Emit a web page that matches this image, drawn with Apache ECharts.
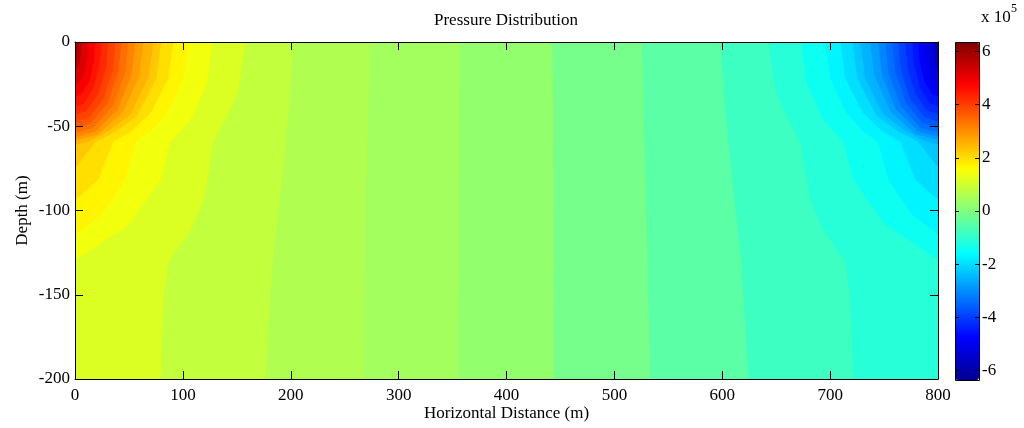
<!DOCTYPE html>
<html>
<head>
<meta charset="utf-8">
<script src="https://cdn.jsdelivr.net/npm/echarts@6/dist/echarts.min.js"></script>
<style>
  html, body { margin: 0; padding: 0; background: #ffffff; }
  #chart { width: 1024px; height: 428px; }
</style>
</head>
<body>
<div id="chart"></div>
<script>
// Contour lines of the pressure field, as [horizontal distance (m), depth (m)] points,
// each listed from the ground surface downward.

// Arcs around the injection corner (x = 0), innermost first.
const westArcs = [
  [[2.8, 0], [2.6, -3.1], [2.0, -6.4], [1.0, -8.5], [0, -9]],
  [[5.6, 0], [5.3, -5.7], [4.0, -11.7], [1.9, -15.6], [0, -16.6]],
  [[12.1, 0], [11.4, -8.7], [8.6, -18], [4.1, -24], [0, -25.5]],
  [[18.5, 0], [17.4, -11.2], [13.1, -23], [6.3, -30.6], [0, -32.6]],
  [[24.1, 0], [22.7, -13.2], [17, -27.3], [8.2, -36.3], [0, -38.6]],
  [[30.6, 0], [28.8, -14.8], [21.6, -30.6], [10.5, -40.7], [0, -43.3]],
  [[37.1, 0], [34.9, -16.2], [26.2, -33.6], [12.7, -44.6], [0, -47.5]],
  [[42.6, 0], [40, -17.4], [30.1, -36.1], [14.6, -48], [0, -51]],
  [[49.1, 0], [46.2, -18.5], [34.7, -38.2], [16.8, -50.8], [0, -54]],
  [[55.6, 0], [52.3, -19.3], [39.3, -39.9], [19, -53], [0, -56.4]],
  [[63, 0], [59.2, -19.9], [44.5, -41.1], [21.5, -54.7], [0, -58.2]],
  [[72.3, 0], [68, -21], [51, -43], [30, -53], [12, -59], [0, -61]],
  [[79.7, 0], [75, -22], [57, -44], [35, -54], [18.5, -59.3], [0, -74.8]],
  [[90.8, 0], [86, -22], [70, -42], [52, -53], [35, -59.3], [21.3, -81.9], [0, -93.8]],
  [[104.7, 0], [100, -22], [85, -42], [70, -53], [55.6, -59.3], [46.3, -81.9], [25, -102], [0, -114.5]],
  [[127, 0], [122, -25], [106.6, -46.3], [88, -59.3], [78.8, -81.9], [50, -108], [0, -129.4]]
];

// Lines crossing the section from surface to bottom, west to east.
const midLines = [
  [[157.6, 0], [151.1, -28.5], [139, -46.3], [127.9, -59.3], [122.3, -81.9], [118.7, -93.8], [106.6, -112], [86.2, -130.6], [81.6, -153.1], [78.8, -200]],
  [[202.1, 0], [198.4, -34.4], [194.7, -59.3], [189.2, -93.8], [182.7, -130.6], [176.1, -200]],
  [[273.4, 0], [270.6, -59.3], [268.7, -130.6], [266.9, -200]],
  [[356.9, 0], [356, -59.3], [355.5, -130.6], [355, -200]],
  [[442.2, 0], [443, -59.3], [443.4, -130.6], [443.6, -200]],
  [[525.3, 0], [527.4, -59.3], [530.4, -130.6], [533, -200]],
  [[597.9, 0], [601.6, -34.4], [605.3, -59.3], [610.8, -93.8], [617.3, -130.6], [623.9, -200]],
  [[642.4, 0], [648.9, -28.5], [661, -46.3], [672.1, -59.3], [677.7, -81.9], [681.3, -93.8], [693.4, -112], [713.8, -130.6], [718.4, -153.1], [721.2, -200]]
];

// Arcs around the production corner (x = 800), innermost first.
const eastArcs = [
  [[797.2, 0], [797.4, -3.1], [798, -6.4], [799, -8.5], [800, -9]],
  [[794.4, 0], [794.7, -5.7], [796, -11.7], [798.1, -15.6], [800, -16.6]],
  [[787.9, 0], [788.6, -8.7], [791.4, -18], [795.9, -24], [800, -25.5]],
  [[781.5, 0], [782.6, -11.2], [786.9, -23], [793.7, -30.6], [800, -32.6]],
  [[775.9, 0], [777.3, -13.2], [783, -27.3], [791.8, -36.3], [800, -38.6]],
  [[769.4, 0], [771.2, -14.8], [778.4, -30.6], [789.5, -40.7], [800, -43.3]],
  [[762.9, 0], [765.1, -16.2], [773.8, -33.6], [787.3, -44.6], [800, -47.5]],
  [[757.4, 0], [760, -17.4], [769.9, -36.1], [785.4, -48], [800, -51]],
  [[750.9, 0], [753.8, -18.5], [765.3, -38.2], [783.2, -50.8], [800, -54]],
  [[744.4, 0], [747.7, -19.3], [760.7, -39.9], [781, -53], [800, -56.4]],
  [[737, 0], [740.8, -19.9], [755.5, -41.1], [778.5, -54.7], [800, -58.2]],
  [[727.7, 0], [732, -21], [749, -43], [770, -53], [788, -59], [800, -61]],
  [[720.3, 0], [725, -22], [743, -44], [765, -54], [781.5, -59.3], [800, -74.8]],
  [[709.2, 0], [714, -22], [730, -42], [748, -53], [765, -59.3], [778.7, -81.9], [800, -93.8]],
  [[695.3, 0], [700, -22], [715, -42], [730, -53], [744.4, -59.3], [753.7, -81.9], [775, -102], [800, -114.5]],
  [[673, 0], [678, -25], [693.4, -46.3], [712, -59.3], [721.2, -81.9], [750, -108], [800, -129.4]]
];

// Pressure (x 10^5) of each filled band.
// East corner: inside the innermost arc, then between successive arcs.
const eastBandValues = [-6.0, -5.6, -5.2, -4.85, -4.51, -4.23, -3.95, -3.67, -3.39, -3.11, -2.83, -2.55, -2.27, -1.99, -1.71, -1.43];
// Bands between the outermost east arc and the outermost west arc, east to west.
const midBandValues = [-1.10, -0.83, -0.47, -0.13, 0.23, 0.43, 0.60, 0.825, 1.15];
// West corner: between successive arcs going inward, then inside the innermost arc.
const westBandValues = [1.43, 1.71, 1.99, 2.27, 2.55, 2.83, 3.11, 3.39, 3.67, 3.95, 4.23, 4.51, 4.85, 5.2, 5.6, 6.0];

const colorbarRange = [-6.35, 6.35];
const colorbarTicks = [-6, -4, -2, 0, 2, 4, 6];
const distanceTicks = [0, 100, 200, 300, 400, 500, 600, 700, 800];
const depthTicks = [-200, -150, -100, -50, 0];

// Jet colour map
const jetColors = ['#00008f', '#0000ff', '#0080ff', '#00ffff', '#80ff80', '#ffff00', '#ff8000', '#ff0000', '#800000'];

const X_MIN = distanceTicks[0], X_MAX = distanceTicks[distanceTicks.length - 1];
const Y_MIN = depthTicks[0], Y_MAX = depthTicks[depthTicks.length - 1];

// Painting order: from the lowest pressure up; each band covers everything
// west of its lower contour line.
const contourLines = [].concat(eastArcs, midLines.slice().reverse(), westArcs.slice().reverse());
const bandValues = [].concat(eastBandValues, midBandValues, westBandValues);

function bandOutline(k) {
  if (k === 0) {
    return [[X_MIN, Y_MAX], [X_MAX, Y_MAX], [X_MAX, Y_MIN], [X_MIN, Y_MIN]];
  }
  const line = contourLines[k - 1];
  const pts = line.slice();
  const end = line[line.length - 1];
  if (end[0] >= X_MAX) pts.push([X_MAX, Y_MIN]);
  if (end[0] >= X_MAX || end[1] <= Y_MIN) pts.push([X_MIN, Y_MIN]);
  pts.push([X_MIN, Y_MAX]);
  return pts;
}

const FONT = '"Liberation Serif", "Times New Roman", serif';
const FS = 17;

const chart = echarts.init(document.getElementById('chart'), null, { renderer: 'canvas' });

function frameAxis(extra) {
  return Object.assign({
    axisLine: { show: true, onZero: false, lineStyle: { color: '#000', width: 1 } },
    axisTick: { show: true, inside: true, length: 8, lineStyle: { color: '#000', width: 1 } },
    splitLine: { show: false },
    z: 10
  }, extra);
}

function colorbarAxis(extra) {
  return Object.assign({
    gridIndex: 1, type: 'value',
    min: colorbarTicks[0], max: colorbarTicks[colorbarTicks.length - 1], interval: 2,
    axisLine: { show: false, onZero: false },
    axisTick: { show: true, inside: true, length: 4, lineStyle: { color: '#000' } },
    splitLine: { show: false }, z: 10
  }, extra);
}

chart.setOption({
  animation: false,
  backgroundColor: '#ffffff',
  grid: [
    { left: 75, top: 42, width: 863, height: 337, containLabel: false, outerBoundsMode: 'none' },
    { left: 955, top: 51.3, width: 24, height: 319.4, containLabel: false, outerBoundsMode: 'none' }
  ],
  xAxis: [
    frameAxis({
      gridIndex: 0, type: 'value', position: 'bottom',
      min: X_MIN, max: X_MAX, interval: 100,
      axisLabel: { color: '#000', fontFamily: FONT, fontSize: FS, margin: 8 },
      name: 'Horizontal Distance (m)', nameLocation: 'middle', nameGap: 26, nameMoveOverlap: false,
      nameTextStyle: { color: '#000', fontFamily: FONT, fontSize: FS }
    }),
    frameAxis({
      gridIndex: 0, type: 'value', position: 'top',
      min: X_MIN, max: X_MAX, interval: 100,
      axisLabel: { show: false }
    }),
    { gridIndex: 1, type: 'value', show: false, min: 0, max: 1 }
  ],
  yAxis: [
    frameAxis({
      gridIndex: 0, type: 'value', position: 'left',
      min: Y_MIN, max: Y_MAX, interval: 50,
      axisLabel: { color: '#000', fontFamily: FONT, fontSize: FS, margin: 5 },
      name: 'Depth (m)', nameLocation: 'middle', nameGap: 44, nameRotate: 90, nameMoveOverlap: false,
      nameTextStyle: { color: '#000', fontFamily: FONT, fontSize: FS }
    }),
    frameAxis({
      gridIndex: 0, type: 'value', position: 'right',
      min: Y_MIN, max: Y_MAX, interval: 50,
      axisLabel: { show: false }
    }),
    colorbarAxis({
      position: 'right',
      axisLabel: { color: '#000', fontFamily: FONT, fontSize: FS, margin: 3 }
    }),
    colorbarAxis({
      position: 'left',
      axisLabel: { show: false }
    })
  ],
  visualMap: {
    type: 'continuous',
    seriesIndex: 0,
    dimension: 0,
    min: colorbarRange[0],
    max: colorbarRange[1],
    orient: 'vertical',
    left: 955,
    top: 42,
    padding: 0,
    itemWidth: 24,
    itemHeight: 338,
    calculable: false,
    realtime: false,
    hoverLink: false,
    text: null,
    inRange: { color: jetColors }
  },
  series: [{
    type: 'custom',
    coordinateSystem: 'cartesian2d',
    xAxisIndex: 0,
    yAxisIndex: 0,
    silent: true,
    clip: true,
    z: 2,
    data: bandValues.map((v, k) => [v, k]),
    renderItem: function (params, api) {
      const pts = bandOutline(params.dataIndex).map(p => api.coord(p));
      const color = api.visual('color');
      return {
        type: 'polygon',
        shape: { points: pts },
        style: { fill: color, stroke: color, lineWidth: 0.6 }
      };
    }
  }],
  graphic: [
    {
      type: 'text', x: 506, y: 21, z: 20,
      style: {
        text: 'Pressure Distribution', fill: '#000', font: FS + 'px ' + FONT,
        textAlign: 'center', textVerticalAlign: 'middle'
      }
    },
    {
      type: 'rect', z: 20,
      shape: { x: 955.5, y: 42.5, width: 24, height: 338 },
      style: { fill: 'none', stroke: '#000', lineWidth: 1 }
    },
    {
      type: 'text', x: 981, y: 26, z: 20,
      style: { text: 'x 10', fill: '#000', font: FS + 'px ' + FONT, textAlign: 'left', textVerticalAlign: 'bottom' }
    },
    {
      type: 'text', x: 1011, y: 15, z: 20,
      style: { text: '5', fill: '#000', font: '12px ' + FONT, textAlign: 'left', textVerticalAlign: 'bottom' }
    }
  ]
});
</script>
</body>
</html>
